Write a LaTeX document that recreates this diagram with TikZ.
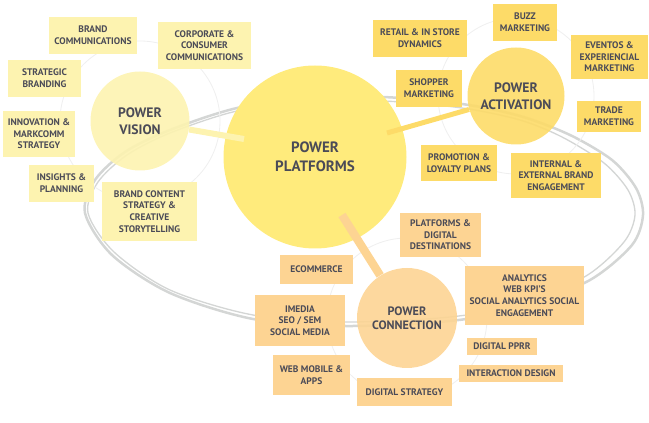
\documentclass[tikz,border=0pt]{standalone}
\usepackage{fontspec}
\setmainfont{PT Sans}
\definecolor{visionfill}{HTML}{FDF3B0}
\definecolor{platformfill}{HTML}{FFEB7C}
\definecolor{activationfill}{HTML}{FDDB68}
\definecolor{connectionfill}{HTML}{FDD493}
\definecolor{labelgray}{HTML}{4B4B57}
\definecolor{swooshgray}{HTML}{D4D6D5}
\definecolor{orbitgray}{HTML}{EFEFEF}
\tikzset{
    bubble/.style={circle, inner sep=0pt, minimum size=#1*0.6pt, align=center, text=labelgray, fill opacity=0.9, text opacity=1, font=\fontsize{8.2}{10.3}\selectfont\bfseries},
    tag/.style 2 args={inner sep=0pt, minimum width=#1*0.6pt, minimum height=#2*0.6pt, align=center, text=labelgray, font=\fontsize{5.7}{7}\selectfont\bfseries},
    orbit/.style={draw=orbitgray, line width=0.5pt},
    swoosh/.style={draw=swooshgray, line width=1.5pt},
}
\begin{document}
\begin{tikzpicture}[x=0.6pt, y=-0.6pt]
    \useasboundingbox (0,0) rectangle (649,423);
    % Elipses
    \draw[swoosh] plot[smooth cycle] coordinates {(237,108) (310,98) (383,97) (462,104) (520,116) (570,135) (612,160) (636,188) (643,215) (632,245) (590,280) (520,308) (450,321) (345,326) (253,319) (170,293) (112,255) (85,213) (95,180) (125,152) (170,130)};
    \draw[swoosh, line width=0.8pt] plot[smooth cycle] coordinates {(237,111) (310,102) (383,101) (462,108) (520,120) (562,137) (604,163) (628,190) (635,215) (624,242) (586,276) (520,304) (450,317) (345,322) (253,315) (170,290) (114,252) (88,213) (98,182) (127,155) (170,133)};
    % Circulos
    \draw[orbit] (140,121) circle (80);
    \draw[orbit] (516,96) circle (78);
    \draw[orbit] (407,318) circle (80);
    \node[bubble=183, fill=platformfill, fill opacity=1, font=\fontsize{9}{11.4}\selectfont\bfseries] (platforms) at (315,157) {POWER\\PLATFORMS};
    \coordinate (visionend) at (244,139);
    \coordinate (activationend) at (387,133);
    \coordinate (connectionend) at (342,215);
    \node[bubble=99, fill=visionfill] (vision) at (140,121) {POWER\\VISION};
    \node[bubble=97, fill=activationfill] (activation) at (516,96) {POWER\\ACTIVATION};
    \node[bubble=100, fill=connectionfill, font=\fontsize{7.3}{8.6}\selectfont\bfseries] (connection) at (407,318) {POWER\\CONNECTION};
    % Barras
    \draw[visionfill, line width=3.6pt] (vision) -- (visionend);
    \draw[activationfill, line width=3pt] (activation) -- (activationend);
    \draw[connectionfill, line width=5pt] (connection) -- (connectionend);
    % Vision
    \begin{scope}[every node/.append style={fill=visionfill}]
        \node[tag={88}{37}] (brandcomm) at (93,35.5) {BRAND\\COMMUNICATIONS};
        \node[tag={93}{47}] (corporate) at (204.5,45.5) {CORPORATE \&\\CONSUMER\\COMMUNICATIONS};
        \node[tag={73}{37}] (strategic) at (44.5,78.5) {STRATEGIC\\BRANDING};
        \node[tag={72}{46}] (innovation) at (39,134) {INNOVATION \&\\MARKCOMM\\STRATEGY};
        \node[tag={65}{37}] (insights) at (61.5,183.5) {INSIGHTS \&\\PLANNING};
        \node[tag={95}{59}] (brandcontent) at (149.5,211.5) {BRAND CONTENT\\STRATEGY \&\\CREATIVE\\STORYTELLING};
    \end{scope}
    % Activation
    \begin{scope}[every node/.append style={fill=activationfill}]
        \node[tag={94}{37}] (retail) at (420,38.5) {RETAIL \& IN STORE\\DYNAMICS};
        \node[tag={66}{37}] (shopper) at (429,88.5) {SHOPPER\\MARKETING};
        \node[tag={64}{37}] (buzz) at (525,22.5) {BUZZ\\MARKETING};
        \node[tag={77}{44}] (eventos) at (609.5,57) {EVENTOS \&\\EXPERIENCIAL\\MARKETING};
        \node[tag={64}{31}] (trade) at (609,116.5) {TRADE\\MARKETING};
        \node[tag={76}{36}] (promotion) at (459,163) {PROMOTION \&\\LOYALTY PLANS};
        \node[tag={90}{45}] (internal) at (556,175.5) {INTERNAL \&\\EXTERNAL BRAND\\ENGAGEMENT};
    \end{scope}
    % Connection
    \begin{scope}[every node/.append style={fill=connectionfill}]
        \node[tag={81}{44}] (digitaldest) at (440.5,235) {PLATFORMS \&\\DIGITAL\\DESTINATIONS};
        \node[tag={73}{29}] (ecommerce) at (316.5,269.5) {ECOMMERCE};
        \node[tag={90}{51}] (imedia) at (300,320.5) {IMEDIA\\SEO / SEM\\SOCIAL MEDIA};
        \node[tag={119}{59}] (analytics) at (524.5,295.5) {ANALYTICS\\WEB KPI'S\\SOCIAL ANALYTICS SOCIAL\\ENGAGEMENT};
        \node[tag={70}{17}] (pprr) at (502,346.5) {DIGITAL PPRR};
        \node[tag={104}{17}] (interaction) at (511,373.5) {INTERACTION DESIGN};
        \node[tag={95}{28}] (digitalstrategy) at (404.5,392) {DIGITAL STRATEGY};
        \node[tag={77}{40}] (webmobile) at (311.5,375) {WEB MOBILE \&\\APPS};
    \end{scope}
\end{tikzpicture}
\end{document}
